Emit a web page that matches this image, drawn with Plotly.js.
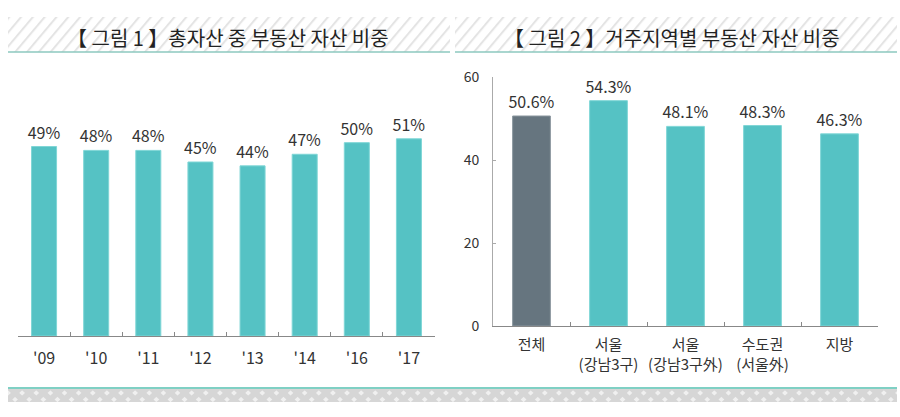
<!DOCTYPE html>
<html>
<head>
<meta charset="utf-8">
<script src="https://cdn.plot.ly/plotly-3.0.1.min.js"></script>
<style>
  html, body { margin: 0; padding: 0; background: #fff; }
  #chart { width: 900px; height: 417px; }
</style>
</head>
<body>
<div id="chart"></div>
<script>
// 그림 1: 총자산 중 부동산 자산 비중
let years = ["'09", "'10", "'11", "'12", "'13", "'14", "'16", "'17"]
let share_by_year = [49, 48, 48, 45, 44, 47, 50, 51]

// 그림 2: 거주지역별 부동산 자산 비중
let regions = ["전체", "서울<br>(강남3구)", "서울<br>(강남3구外)", "수도권<br>(서울外)", "지방"]
let share_by_region = [50.6, 54.3, 48.1, 48.3, 46.3]

let teal = "#55c2c4"
let slate = "#66757f"
let font_kr = "Noto Sans CJK KR, Noto Sans, sans-serif"

let stripes_svg = '<svg xmlns="http://www.w3.org/2000/svg" width="440" height="35">' +
  '<defs><pattern id="p" width="9" height="9" patternUnits="userSpaceOnUse" patternTransform="rotate(40)">' +
  '<rect width="9" height="9" fill="#fff"/><rect width="2" height="9" fill="#e4e4e4"/></pattern></defs>' +
  '<rect width="440" height="35" fill="url(#p)"/></svg>'
let checks_svg = '<svg xmlns="http://www.w3.org/2000/svg" width="890" height="14">' +
  '<defs><pattern id="q" width="10" height="10" patternUnits="userSpaceOnUse" patternTransform="rotate(45)">' +
  '<rect width="10" height="10" fill="#d6d6d6"/><rect x="1" y="1" width="4" height="4" fill="#f0f0f0"/></pattern></defs>' +
  '<rect width="890" height="14" fill="url(#q)"/></svg>'
let to_uri = s => "data:image/svg+xml;base64," + btoa(s)

let left_bars = {
  x: years,
  y: share_by_year,
  type: "bar",
  xaxis: "x",
  yaxis: "y",
  width: 0.48,
  marker: { color: teal, line: { color: "#7fd6d6", width: 1 } },
  texttemplate: "%{y}%",
  textposition: "outside",
  constraintext: "none",
  cliponaxis: false,
  textfont: { family: font_kr, size: 16, color: "#333" },
  hoverinfo: "x+y",
}

let right_bars = {
  x: regions,
  y: share_by_region,
  type: "bar",
  xaxis: "x2",
  yaxis: "y2",
  width: 0.49,
  marker: {
    color: regions.map((r, i) => i == 0 ? slate : teal),
    line: { color: regions.map((r, i) => i == 0 ? "#8a969e" : "#7fd6d6"), width: 1 },
  },
  texttemplate: "%{y:.1f}%",
  textposition: "outside",
  constraintext: "none",
  cliponaxis: false,
  textfont: { family: font_kr, size: 16, color: "#333" },
  hoverinfo: "x+y",
}

let layout = {
  width: 900,
  height: 417,
  autosize: false,
  margin: { l: 0, r: 0, t: 0, b: 0 },
  paper_bgcolor: "#fff",
  plot_bgcolor: "rgba(0,0,0,0)",
  showlegend: false,
  font: { family: font_kr, color: "#333" },
  xaxis: {
    domain: [18 / 900, 435 / 900],
    anchor: "y",
    type: "category",
    showline: true,
    linecolor: "#888",
    linewidth: 1,
    ticks: "inside",
    ticklen: 4,
    tickcolor: "#888",
    tickson: "boundaries",
    tickangle: 0,
    tickfont: { family: font_kr, size: 16, color: "#333" },
    ticklabelstandoff: 8,
    showgrid: false,
    automargin: false,
  },
  yaxis: {
    domain: [1 - 336 / 417, 1 - 104 / 417],
    anchor: "x",
    range: [0, 60],
    visible: false,
    showgrid: false,
    automargin: false,
  },
  xaxis2: {
    domain: [493 / 900, 878 / 900],
    anchor: "y2",
    type: "category",
    showline: true,
    linecolor: "#888",
    linewidth: 1,
    ticks: "inside",
    ticklen: 4,
    tickcolor: "#888",
    tickson: "boundaries",
    tickangle: 0,
    tickfont: { family: font_kr, size: 15, color: "#333" },
    ticklabelstandoff: 5,
    showgrid: false,
    automargin: false,
  },
  yaxis2: {
    domain: [1 - 326 / 417, 1 - 77 / 417],
    anchor: "x2",
    range: [0, 60],
    tickvals: [0, 20, 40, 60],
    showline: true,
    linecolor: "#aaa",
    linewidth: 1,
    ticks: "inside",
    ticklen: 3,
    tickcolor: "#aaa",
    tickfont: { family: font_kr, size: 14, color: "#333" },
    ticklabelstandoff: 10,
    showgrid: false,
    zeroline: false,
    automargin: false,
  },
  images: [
    { source: to_uri(stripes_svg), xref: "paper", yref: "paper", x: 8 / 900, y: 1 - 17 / 417,
      sizex: 442 / 900, sizey: 35 / 417, sizing: "stretch", layer: "below", xanchor: "left", yanchor: "top" },
    { source: to_uri(stripes_svg), xref: "paper", yref: "paper", x: 455 / 900, y: 1 - 17 / 417,
      sizex: 442 / 900, sizey: 35 / 417, sizing: "stretch", layer: "below", xanchor: "left", yanchor: "top" },
    { source: to_uri(checks_svg), xref: "paper", yref: "paper", x: 8 / 900, y: 1 - 389 / 417,
      sizex: 889 / 900, sizey: 13 / 417, sizing: "stretch", layer: "below", xanchor: "left", yanchor: "top" },
  ],
  shapes: [
    { type: "line", xref: "paper", yref: "paper", x0: 8 / 900, x1: 450 / 900, y0: 1 - 52 / 417, y1: 1 - 52 / 417,
      line: { color: "#8cc8bf", width: 1.5 } },
    { type: "line", xref: "paper", yref: "paper", x0: 455 / 900, x1: 897 / 900, y0: 1 - 52 / 417, y1: 1 - 52 / 417,
      line: { color: "#8cc8bf", width: 1.5 } },
    { type: "line", xref: "paper", yref: "paper", x0: 8 / 900, x1: 897 / 900, y0: 1 - 388 / 417, y1: 1 - 388 / 417,
      line: { color: "#7fd0c4", width: 2 } },
  ],
  annotations: [
    { text: "【 그림 1 】총자산 중 부동산 자산 비중", xref: "paper", yref: "paper",
      x: 228 / 900, y: 1 - 37 / 417, xanchor: "center", yanchor: "middle", showarrow: false,
      font: { family: font_kr, size: 20, color: "#222" } },
    { text: "【 그림 2 】거주지역별 부동산 자산 비중", xref: "paper", yref: "paper",
      x: 672 / 900, y: 1 - 37 / 417, xanchor: "center", yanchor: "middle", showarrow: false,
      font: { family: font_kr, size: 20, color: "#222" } },
  ],
}

Plotly.newPlot("chart", [left_bars, right_bars], layout, {
  displayModeBar: false,
  staticPlot: true,
})
</script>
</body>
</html>
